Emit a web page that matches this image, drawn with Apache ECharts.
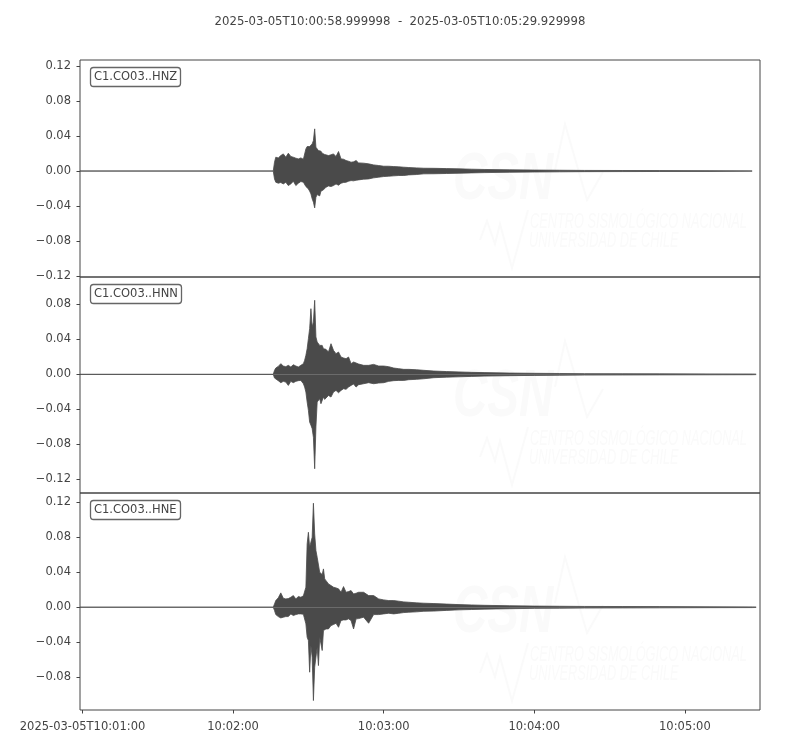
<!DOCTYPE html>
<html>
<head>
<meta charset="utf-8">
<script src="https://cdn.jsdelivr.net/npm/echarts@6.0.0/dist/echarts.min.js"></script>
<style>
  html, body { margin: 0; padding: 0; background: #ffffff; }
  #main { width: 800px; height: 750px; }
</style>
</head>
<body>
<div id="main"></div>
<script>
// seconds after 10:01:00 (UTC), shared by the three channels
var times = [
  -1, 76, 76.5, 77, 78, 79, 80, 81, 82, 83, 84, 85, 86, 87, 88,
  88.5, 89, 89.5, 90, 90.5, 91, 91.5, 92, 92.5, 93, 93.5, 94, 94.5, 95, 95.5, 96, 96.5,
  97, 98, 99, 100, 101, 102, 103, 104, 105, 106, 107, 108, 109, 110,
  112, 114, 116, 118, 120, 122, 124, 126, 128, 130,
  133, 136, 140, 145, 150, 155, 160,
  170, 180, 190, 200, 215, 230, 250,
  266.8, 268.4
];

// upper / lower envelope of each trace
var hnzHi = [
  0, 0, 0.0101, 0.0158, 0.0150, 0.0177, 0.0196, 0.0158, 0.0204, 0.0166, 0.0158, 0.0147, 0.0139, 0.0150, 0.0135,
  0.0139, 0.0253, 0.0280, 0.0265, 0.0280, 0.0291, 0.0310, 0.0349, 0.0482, 0.0272, 0.0253, 0.0234, 0.0215, 0.0227, 0.0204, 0.0196, 0.0189,
  0.0196, 0.0177, 0.0185, 0.0196, 0.0166, 0.0223, 0.0139, 0.0135, 0.0120, 0.0112, 0.0101, 0.0105, 0.0120, 0.0093,
  0.0090, 0.0082, 0.0070, 0.0063, 0.0055, 0.0055, 0.0051, 0.0048, 0.0044, 0.0040,
  0.0036, 0.0032, 0.0031, 0.0028, 0.0025, 0.0021, 0.0018,
  0.0014, 0.0011, 0.0009, 0.0007, 0.0006, 0.0005, 0.0004,
  0.0003, null
];
var hnzLo = [
  0, 0, -0.0090, -0.0128, -0.0139, -0.0131, -0.0147, -0.0128, -0.0166, -0.0147, -0.0116, -0.0166, -0.0139, -0.0120, -0.0128,
  -0.0116, -0.0177, -0.0185, -0.0204, -0.0230, -0.0261, -0.0318, -0.0356, -0.0421, -0.0299, -0.0269, -0.0253, -0.0284, -0.0230, -0.0246, -0.0215, -0.0196,
  -0.0185, -0.0170, -0.0177, -0.0166, -0.0147, -0.0162, -0.0139, -0.0131, -0.0128, -0.0116, -0.0109, -0.0112, -0.0105, -0.0101,
  -0.0093, -0.0090, -0.0078, -0.0070, -0.0063, -0.0059, -0.0055, -0.0051, -0.0051, -0.0044,
  -0.0040, -0.0032, -0.0031, -0.0028, -0.0025, -0.0021, -0.0018,
  -0.0014, -0.0011, -0.0009, -0.0007, -0.0006, -0.0005, -0.0004,
  -0.0003, null
];
var hnnHi = [
  0, 0, 0.0046, 0.0072, 0.0091, 0.0122, 0.0095, 0.0088, 0.0103, 0.0084, 0.0110, 0.0095, 0.0084, 0.0103, 0.0122,
  0.0160, 0.0217, 0.0293, 0.0408, 0.0522, 0.0750, 0.0541, 0.0598, 0.0846, 0.0427, 0.0370, 0.0350, 0.0331, 0.0312, 0.0331, 0.0293, 0.0301,
  0.0286, 0.0255, 0.0350, 0.0274, 0.0236, 0.0255, 0.0198, 0.0187, 0.0179, 0.0198, 0.0122, 0.0141, 0.0130, 0.0118,
  0.0103, 0.0103, 0.0114, 0.0095, 0.0095, 0.0088, 0.0072, 0.0065, 0.0057, 0.0057,
  0.0053, 0.0046, 0.0038, 0.0032, 0.0028, 0.0023, 0.0020,
  0.0015, 0.0012, 0.0010, 0.0008, 0.0007, 0.0006, 0.0005,
  0.0004, 0.0003
];
var hnnLo = [
  0, 0, -0.0042, -0.0057, -0.0072, -0.0095, -0.0080, -0.0088, -0.0126, -0.0080, -0.0095, -0.0080, -0.0072, -0.0069, -0.0107,
  -0.0145, -0.0202, -0.0316, -0.0411, -0.0545, -0.0580, -0.0620, -0.0720, -0.1078, -0.0600, -0.0316, -0.0297, -0.0278, -0.0335, -0.0354, -0.0259, -0.0286,
  -0.0278, -0.0240, -0.0259, -0.0202, -0.0183, -0.0210, -0.0183, -0.0164, -0.0171, -0.0145, -0.0126, -0.0110, -0.0145, -0.0118,
  -0.0107, -0.0095, -0.0107, -0.0099, -0.0095, -0.0080, -0.0072, -0.0069, -0.0069, -0.0061,
  -0.0057, -0.0050, -0.0038, -0.0032, -0.0028, -0.0023, -0.0020,
  -0.0015, -0.0012, -0.0010, -0.0008, -0.0007, -0.0006, -0.0005,
  -0.0004, -0.0003
];
var hneHi = [
  0, 0, 0.0038, 0.0076, 0.0107, 0.0164, 0.0103, 0.0095, 0.0099, 0.0114, 0.0133, 0.0095, 0.0122, 0.0114, 0.0130,
  0.0133, 0.0229, 0.0724, 0.0857, 0.0686, 0.0686, 0.0800, 0.1189, 0.0838, 0.0648, 0.0571, 0.0571, 0.0400, 0.0381, 0.0373, 0.0438, 0.0324,
  0.0305, 0.0267, 0.0248, 0.0229, 0.0221, 0.0210, 0.0171, 0.0236, 0.0171, 0.0179, 0.0190, 0.0152, 0.0160, 0.0171,
  0.0171, 0.0133, 0.0133, 0.0095, 0.0084, 0.0076, 0.0076, 0.0069, 0.0061, 0.0057,
  0.0050, 0.0046, 0.0042, 0.0036, 0.0030, 0.0026, 0.0022,
  0.0017, 0.0013, 0.0011, 0.0009, 0.0008, 0.0007, 0.0005,
  0.0004, 0.0003
];
var hneLo = [
  0, 0, -0.0038, -0.0084, -0.0107, -0.0122, -0.0114, -0.0107, -0.0107, -0.0076, -0.0095, -0.0084, -0.0076, -0.0076, -0.0080,
  -0.0076, -0.0190, -0.0343, -0.0381, -0.0743, -0.0438, -0.0571, -0.1067, -0.0686, -0.0571, -0.0457, -0.0667, -0.0343, -0.0419, -0.0495, -0.0267, -0.0274,
  -0.0248, -0.0248, -0.0210, -0.0198, -0.0183, -0.0229, -0.0152, -0.0145, -0.0145, -0.0133, -0.0152, -0.0248, -0.0133, -0.0130,
  -0.0114, -0.0183, -0.0084, -0.0084, -0.0076, -0.0069, -0.0076, -0.0069, -0.0061, -0.0057,
  -0.0053, -0.0046, -0.0044, -0.0036, -0.0030, -0.0026, -0.0022,
  -0.0017, -0.0013, -0.0011, -0.0009, -0.0008, -0.0007, -0.0005,
  -0.0004, -0.0003
];

var channels = ['C1.CO03..HNZ', 'C1.CO03..HNN', 'C1.CO03..HNE'];
var xTickVals = [0, 60, 120, 180, 240];
var xTickLabels = ['2025-03-05T10:01:00', '10:02:00', '10:03:00', '10:04:00', '10:05:00'];
var yTicks = [
  [-0.12, -0.08, -0.04, 0, 0.04, 0.08, 0.12],
  [-0.12, -0.08, -0.04, 0, 0.04, 0.08],
  [-0.08, -0.04, 0, 0.04, 0.08, 0.12]
];
var titleText = '2025-03-05T10:00:58.999998  -  2025-03-05T10:05:29.929998';

var FONT = 'DejaVu Sans';
var INK = '#444444';
var WAVE = '#4a4a4a';
var FAINT = '#fafafa';

// panel layout (px)
var panelTop = [60, 277, 493];
var panelH = [217, 216, 217];
var yRange = [[-0.1211, 0.1269], [-0.1355, 0.1112], [-0.1175, 0.1306]];

function pairs(xs, ys) {
  var out = [];
  for (var i = 0; i < xs.length; i++) out.push([xs[i], ys[i]]);
  return out;
}

function fmtY(v) {
  return v.toFixed(2).replace('-', '\u2212');
}

var traces = [[hnzHi, hnzLo], [hnnHi, hnnLo], [hneHi, hneLo]];

var grids = [], xAxes = [], yAxes = [], series = [], titles = [], graphics = [];

titles.push({
  text: titleText,
  left: 'center',
  top: 11,
  textStyle: { fontFamily: FONT, fontSize: 11.7, fontWeight: 'normal', color: INK }
});

for (var i = 0; i < 3; i++) {
  var last = i === 2;
  grids.push({
    left: 80, width: 680, top: panelTop[i], height: panelH[i],
    show: true, borderColor: INK, borderWidth: 1, backgroundColor: 'transparent'
  });
  xAxes.push({
    type: 'value', gridIndex: i, min: -1, max: 269.93,
    position: 'bottom',
    axisLine: { show: false, onZero: false },
    splitLine: { show: false },
    axisTick: {
      show: last, customValues: xTickVals, length: 3.5,
      lineStyle: { color: INK, width: 1 }
    },
    axisLabel: {
      show: last, customValues: xTickVals, margin: 11,
      fontFamily: FONT, fontSize: 11.5, color: INK,
      formatter: function (v) { return xTickLabels[xTickVals.indexOf(v)]; }
    }
  });
  yAxes.push({
    type: 'value', gridIndex: i, min: yRange[i][0], max: yRange[i][1],
    axisLine: { show: false, onZero: false },
    splitLine: { show: false },
    axisTick: {
      show: true, customValues: yTicks[i], length: 3.5,
      lineStyle: { color: INK, width: 1 }
    },
    axisLabel: {
      customValues: yTicks[i], margin: 9,
      fontFamily: FONT, fontSize: 11.5, color: INK,
      formatter: fmtY
    }
  });
  [0, 1].forEach(function (k) {
    series.push({
      type: 'line',
      xAxisIndex: i, yAxisIndex: i,
      data: pairs(times, traces[i][k]),
      symbol: 'none',
      lineStyle: { color: WAVE, width: 0.8 },
      areaStyle: { color: WAVE, opacity: 1, origin: 'auto' },
      z: 3,
      silent: true
    });
  });
  titles.push({
    text: channels[i],
    left: 90,
    top: panelTop[i] + 7,
    padding: [4, 4, 3, 4],
    borderColor: '#666666',
    borderWidth: 1.3,
    borderRadius: 3,
    backgroundColor: '#ffffff',
    textStyle: { fontFamily: FONT, fontSize: 11.5, fontWeight: 'normal', color: INK, lineHeight: 13 }
  });

  // faint CSN watermark
  var t0 = panelTop[i];
  graphics.push({
    type: 'text', x: 453, y: t0 + 121, scaleX: 0.72, z: -1, silent: true,
    style: { text: 'CSN', fill: FAINT, font: 'italic bold 66px "Liberation Sans"', verticalAlign: 'middle' }
  });
  graphics.push({
    type: 'polyline', z: -1, silent: true,
    shape: { points: [[555, t0 + 110], [565, t0 + 64], [587, t0 + 140], [603, t0 + 112]] },
    style: { stroke: FAINT, lineWidth: 2, fill: null }
  });
  graphics.push({
    type: 'polyline', z: -1, silent: true,
    shape: { points: [[480, t0 + 180], [487, t0 + 161], [495, t0 + 184], [500, t0 + 164], [512, t0 + 208], [528, t0 + 150]] },
    style: { stroke: FAINT, lineWidth: 2, fill: null }
  });
  graphics.push({
    type: 'text', x: 530, y: t0 + 162, scaleX: 0.58, z: -1, silent: true,
    style: { text: 'CENTRO SISMOLÓGICO NACIONAL', fill: FAINT, font: 'italic 22px "Liberation Sans"', verticalAlign: 'middle' }
  });
  graphics.push({
    type: 'text', x: 529, y: t0 + 181, scaleX: 0.58, z: -1, silent: true,
    style: { text: 'UNIVERSIDAD DE CHILE', fill: FAINT, font: 'italic 22px "Liberation Sans"', verticalAlign: 'middle' }
  });
}

var chart = echarts.init(document.getElementById('main'), null, { renderer: 'canvas' });
chart.setOption({
  backgroundColor: '#ffffff',
  animation: false,
  title: titles,
  grid: grids,
  xAxis: xAxes,
  yAxis: yAxes,
  graphic: graphics,
  series: series
});
</script>
</body>
</html>
